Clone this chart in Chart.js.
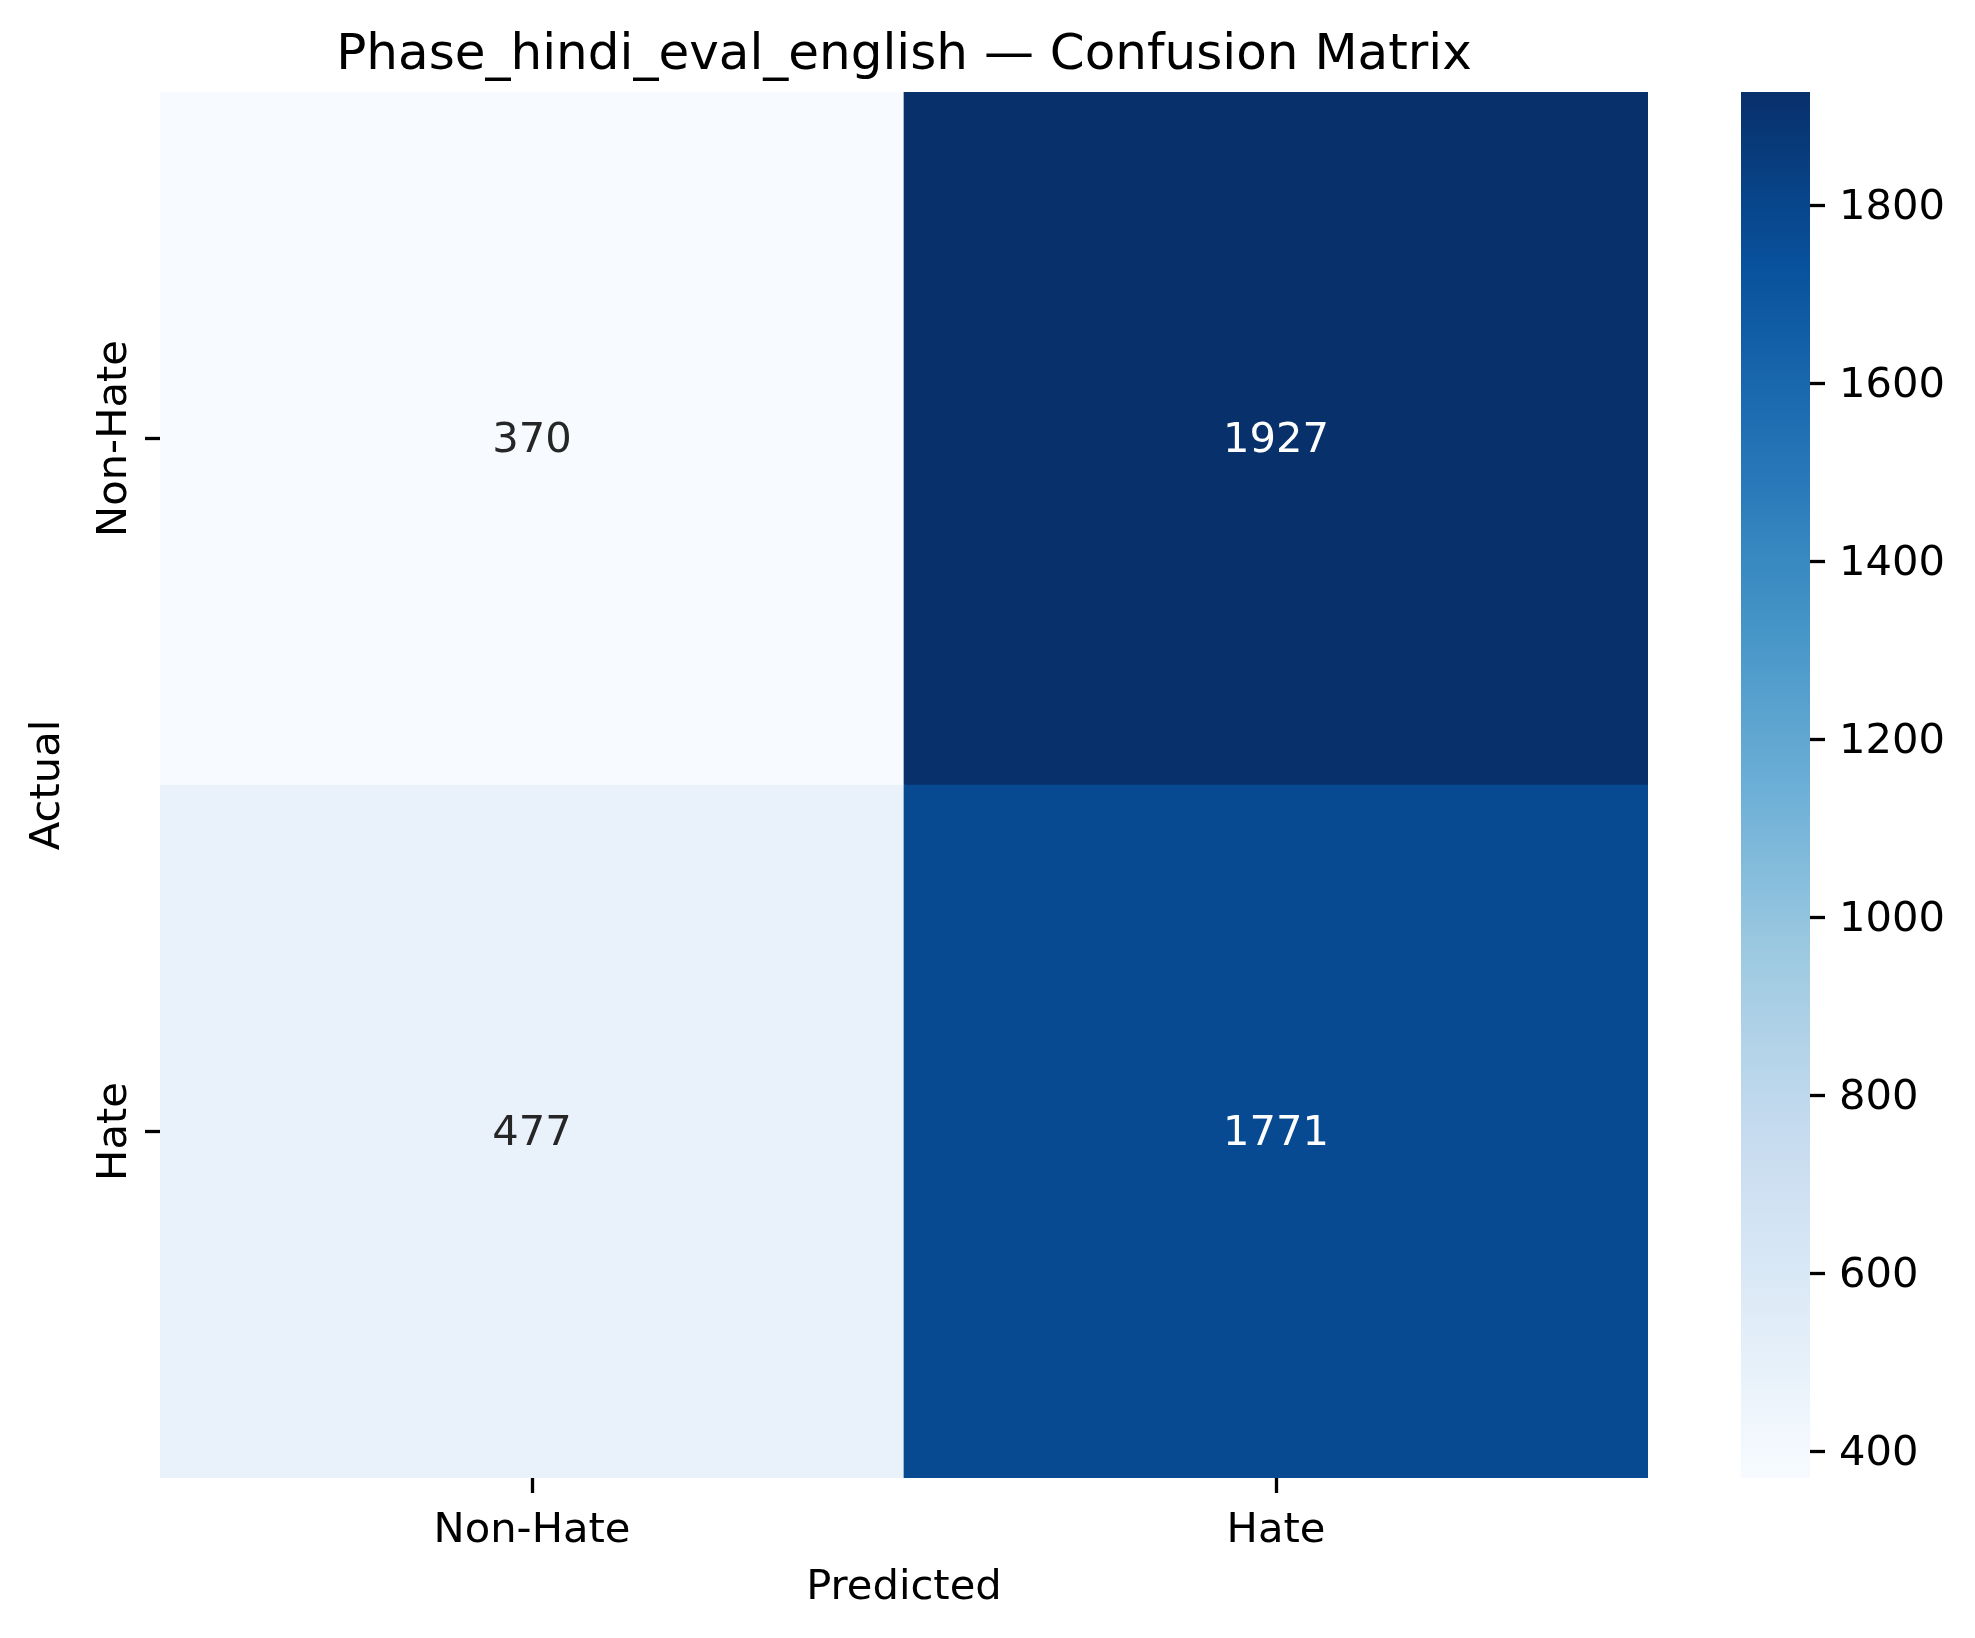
<!DOCTYPE html>
<html>
<head>
<meta charset="utf-8">
<script src="https://cdn.jsdelivr.net/npm/chart.js@4.4.1/dist/chart.umd.min.js"></script>
<style>
  body { margin: 0; background: #fff; }
  #wrap { position: relative; width: 1975px; height: 1638px; }
  canvas { position: absolute; top: 0; }
  #heat { left: 0; }
  #cbar { left: 1741px; }
</style>
</head>
<body>
<div id="wrap">
  <canvas id="heat" width="1975" height="1638"></canvas>
  <canvas id="cbar" width="234" height="1638"></canvas>
</div>
<script>
// data
var predictedLabels = ['Non-Hate', 'Hate'];
var actualLabels = ['Non-Hate', 'Hate'];
var counts = [
  [370, 1927],
  [477, 1771]
];
var cbTicks = [400, 600, 800, 1000, 1200, 1400, 1600, 1800];
var chartTitle = 'Phase_hindi_eval_english \u2014 Confusion Matrix';

var FONT = 'DejaVu Sans';
var PT10 = 41.67;

// matplotlib "Blues"
var blues = ['#f7fbff', '#deebf7', '#c6dbef', '#9ecae1', '#6baed6', '#4292c6', '#2171b5', '#08519c', '#08306b'];

function hexRgb(h) {
  return [parseInt(h.slice(1, 3), 16), parseInt(h.slice(3, 5), 16), parseInt(h.slice(5, 7), 16)];
}
function bluesAt(t) {
  t = Math.max(0, Math.min(1, t));
  var pos = t * (blues.length - 1);
  var i = Math.min(Math.floor(pos), blues.length - 2);
  var f = pos - i;
  var a = hexRgb(blues[i]), b = hexRgb(blues[i + 1]);
  return [0, 1, 2].map(function (k) { return Math.round(a[k] + (b[k] - a[k]) * f); });
}

var flat = counts.reduce(function (a, r) { return a.concat(r); }, []);
var vmin = Math.min.apply(null, flat);
var vmax = Math.max.apply(null, flat);

function cellRgb(v) { return bluesAt((v - vmin) / (vmax - vmin)); }
function rgbStr(c) { return 'rgb(' + c[0] + ',' + c[1] + ',' + c[2] + ')'; }
function lum(c) {
  var l = c.map(function (x) {
    x = x / 255;
    return x <= 0.03928 ? x / 12.92 : Math.pow((x + 0.055) / 1.055, 2.4);
  });
  return 0.2126 * l[0] + 0.7152 * l[1] + 0.0722 * l[2];
}

// one stacked dataset per row, bottom row first
var datasets = [];
for (var d = 0; d < actualLabels.length; d++) {
  var r = actualLabels.length - 1 - d;
  datasets.push({
    label: actualLabels[r],
    data: predictedLabels.map(function () { return 1; }),
    backgroundColor: counts[r].map(function (v) { return rgbStr(cellRgb(v)); }),
    borderWidth: 0,
    barPercentage: 1,
    categoryPercentage: 1
  });
}

var cellText = {
  id: 'cellText',
  afterDatasetsDraw: function (chart) {
    var ctx = chart.ctx;
    ctx.save();
    ctx.font = PT10 + 'px "' + FONT + '"';
    ctx.textAlign = 'center';
    ctx.textBaseline = 'alphabetic';
    chart.data.datasets.forEach(function (ds, di) {
      var r = actualLabels.length - 1 - di;
      chart.getDatasetMeta(di).data.forEach(function (el, ci) {
        var v = counts[r][ci];
        ctx.fillStyle = lum(cellRgb(v)) > 0.408 ? '#262626' : '#ffffff';
        var cy = (el.y + el.base) / 2;
        ctx.fillText(String(v), el.x, cy + 13);
      });
    });
    ctx.restore();
  }
};

// rotated row labels, placed from the y scale
var rowLabels = {
  id: 'rowLabels',
  afterDraw: function (chart) {
    var ctx = chart.ctx;
    var ys = chart.scales.y;
    ctx.save();
    ctx.font = PT10 + 'px "' + FONT + '"';
    ctx.fillStyle = '#000';
    ctx.textAlign = 'center';
    ctx.textBaseline = 'alphabetic';
    ys.ticks.forEach(function (t) {
      var r = actualLabels.length - 1 - Math.floor(t.value);
      var py = ys.getPixelForValue(t.value);
      ctx.save();
      ctx.translate(ys.right - 34, py);
      ctx.rotate(-Math.PI / 2);
      ctx.fillText(actualLabels[r], 0, 0);
      ctx.restore();
    });
    ctx.restore();
  }
};

var tickGrid = {
  drawOnChartArea: false,
  drawTicks: true,
  tickLength: 15,
  tickWidth: 3.3,
  tickColor: '#000',
  offset: false
};

new Chart(document.getElementById('heat'), {
  type: 'bar',
  data: { labels: predictedLabels, datasets: datasets },
  plugins: [cellText, rowLabels],
  options: {
    responsive: false,
    animation: false,
    devicePixelRatio: 1,
    layout: { padding: { left: 0, right: 327, top: 0, bottom: 0 } },
    plugins: {
      legend: { display: false },
      tooltip: { enabled: false },
      title: {
        display: true,
        text: chartTitle,
        fullSize: false,
        color: '#000',
        font: { family: FONT, size: 50, weight: 'normal' },
        padding: { top: 26, bottom: 6 }
      }
    },
    scales: {
      x: {
        type: 'category',
        stacked: true,
        offset: true,
        grid: tickGrid,
        border: { display: false },
        ticks: { color: '#000', padding: 13, font: { family: FONT, size: PT10 } },
        title: {
          display: true, text: 'Predicted', color: '#000',
          font: { family: FONT, size: PT10 },
          padding: { top: 0, bottom: 25 }
        },
        afterFit: function (s) { s.height = 160; }
      },
      y: {
        type: 'linear',
        stacked: true,
        min: 0,
        max: actualLabels.length,
        grid: tickGrid,
        border: { display: false },
        ticks: { display: false },
        afterBuildTicks: function (s) {
          s.ticks = actualLabels.map(function (l, i) { return { value: i + 0.5 }; });
        },
        title: {
          display: true, text: 'Actual', color: '#000',
          font: { family: FONT, size: PT10 },
          padding: { top: 23, bottom: 0 }
        },
        afterFit: function (s) { s.width = 160; }
      }
    }
  }
});

// colour bar: one floating bar filled with the colormap
new Chart(document.getElementById('cbar'), {
  type: 'bar',
  data: {
    labels: [''],
    datasets: [{
      data: [[vmin, vmax]],
      borderWidth: 0,
      barPercentage: 1,
      categoryPercentage: 1,
      backgroundColor: function (c) {
        var ch = c.chart;
        if (!ch.chartArea) return '#fff';
        var ys = ch.scales.y;
        var y0 = ys.getPixelForValue(vmin), y1 = ys.getPixelForValue(vmax);
        var g = ch.ctx.createLinearGradient(0, y0, 0, y1);
        for (var i = 0; i <= 64; i++) {
          g.addColorStop(i / 64, rgbStr(bluesAt(i / 64)));
        }
        return g;
      }
    }]
  },
  options: {
    responsive: false,
    animation: false,
    devicePixelRatio: 1,
    layout: { padding: { left: 0, right: 0, top: 92, bottom: 160 } },
    plugins: { legend: { display: false }, tooltip: { enabled: false } },
    scales: {
      x: { display: false, offset: true },
      y: {
        type: 'linear',
        position: 'right',
        min: vmin,
        max: vmax,
        grid: tickGrid,
        border: { display: false },
        afterBuildTicks: function (s) {
          s.ticks = cbTicks.map(function (v) { return { value: v }; });
        },
        ticks: {
          color: '#000', padding: 14, labelOffset: 3,
          font: { family: FONT, size: PT10 },
          callback: function (v) { return String(v); }
        },
        afterFit: function (s) { s.width = 165; }
      }
    }
  }
});
</script>
</body>
</html>
